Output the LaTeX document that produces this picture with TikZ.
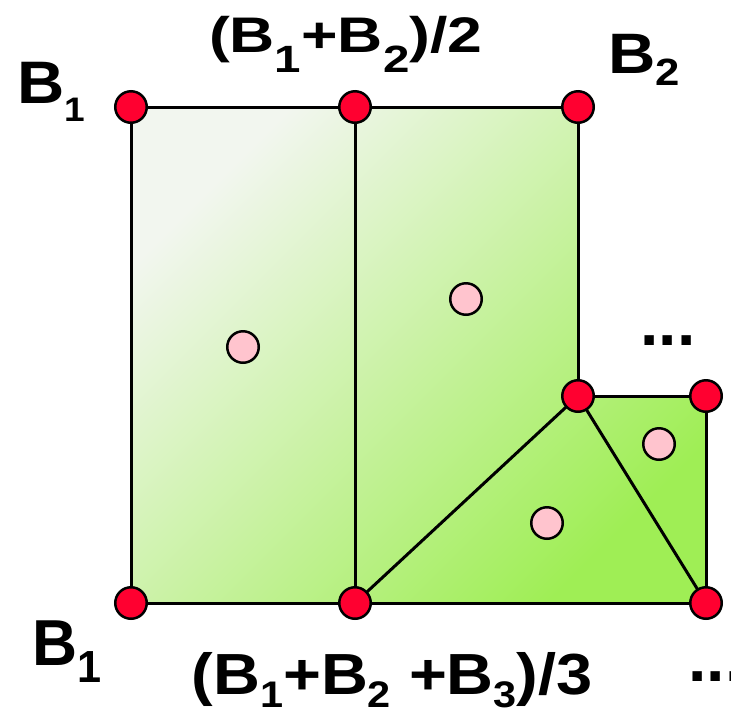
\documentclass[tikz,border=0pt]{standalone}
\usepackage{fontspec}
\usepackage{graphicx}
\setmainfont{Liberation Sans}
\definecolor{lightg}{HTML}{F2F6EF}
\definecolor{darkg}{HTML}{9FEE55}
\definecolor{reddot}{HTML}{FF0030}
\definecolor{pinkdot}{HTML}{FFC4CE}
\newcommand\mysub[3]{\raisebox{-#2pt}{\fontsize{#1pt}{#1pt}\selectfont #3}}
\newcommand\mylab[3]{\scalebox{#2}[1]{\fontsize{#1pt}{#1pt}\selectfont\bfseries #3}}
\begin{document}
\begin{tikzpicture}[x=1pt,y=-1pt,
  edge/.style={line width=3pt, line join=round},
  vtx/.style={circle, draw=black, line width=2.5pt, fill=reddot, minimum size=31.5pt, inner sep=0pt},
  ctr/.style={circle, draw=black, line width=2.5pt, fill=pinkdot, minimum size=31.5pt, inner sep=0pt},
  lbl/.style={anchor=base west, inner sep=0pt, outer sep=0pt}]
\useasboundingbox (0,0) rectangle (731,716);
\coordinate (A) at (131,107);
\coordinate (M) at (355,107);
\coordinate (C) at (578,107);
\coordinate (D) at (578,396);
\coordinate (E) at (706,396);
\coordinate (F) at (706,603);
\coordinate (G) at (355,603);
\coordinate (H) at (131,603);
\shade[top color=lightg, bottom color=darkg, shading angle=45] (A) -- (C) -- (D) -- (E) -- (F) -- (H) -- cycle;
\draw[edge] (A) -- (C) -- (D) -- (E) -- (F) -- (H) -- cycle;
\draw[edge] (M) -- (G);
\draw[edge] (G) -- (D) -- (F);
\foreach \p in {A,M,C,D,E,F,G,H} {\node[vtx] (n\p) at (\p) {};}
\node[ctr] (p1) at (243,347) {};
\node[ctr] (p2) at (466,299) {};
\node[ctr] (p3) at (659,444) {};
\node[ctr] (p4) at (547,523) {};
\node[lbl] (l1) at (17,103) {\mylab{60}{1.09}{B\mysub{34}{18}{1}}};
\node[lbl] (l2) at (209,52.5) {\mylab{50}{1.25}{(B\mysub{38}{20}{1}+B\mysub{38}{20}{2})/2}};
\node[lbl] (l3) at (608,73) {\mylab{57}{1.15}{B\mysub{38}{12}{2}}};
\node[lbl] (l4) at (32.4,665) {\mylab{65}{0.96}{B\mysub{45}{17}{1}}};
\node[lbl] (l5) at (191.5,694) {\mylab{58}{1.12}{(B\mysub{37}{13}{1}+B\mysub{37}{13}{2} +B\mysub{37}{13}{3})/3}};
\node[lbl] (d1) at (640.5,345) {\mylab{66}{1}{...}};
\node[lbl] (d2) at (688.5,681) {\mylab{66}{1}{...}};
\end{tikzpicture}
\end{document}
